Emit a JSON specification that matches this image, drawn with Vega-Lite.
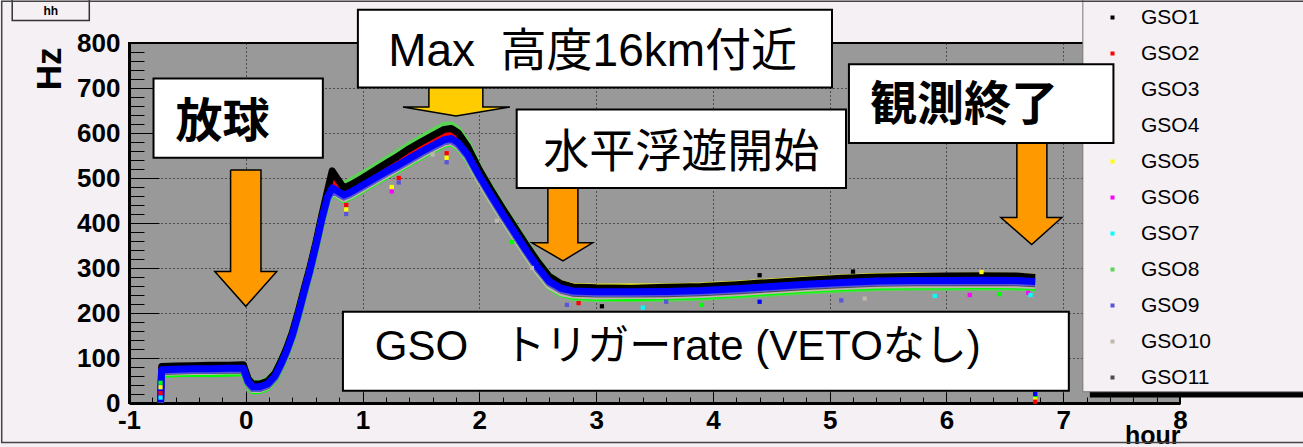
{
  "$schema": "https://vega.github.io/schema/vega-lite/v6.json",
  "width": 1051,
  "height": 360,
  "autosize": "none",
  "padding": {"left": 129, "top": 43, "right": 123, "bottom": 44},
  "background": "#f4f0f4",
  "config": {
    "font": "Liberation Sans",
    "view": {"fill": "#999999", "stroke": "#000000", "strokeWidth": 2},
    "axis": {
      "domainColor": "#000000", "domainWidth": 3, "tickColor": "#000000", "tickWidth": 1,
      "gridColor": "#000000", "gridDash": [1, 3], "gridWidth": 1,
      "labelFont": "Liberation Sans", "labelFontWeight": "bold", "labelFontSize": 26, "labelColor": "#000000",
      "titleFont": "Liberation Sans", "titleFontWeight": "bold", "titleColor": "#000000",
      "labelFlush": false, "labelOverlap": false, "labelBound": false
    }
  },
  "datasets": {
    "series": [
      {"h": -0.73, "GSO1": 4, "GSO2": 3, "GSO3": 5, "GSO4": 2, "GSO5": 4, "GSO6": 3, "GSO7": 2, "GSO8": 5, "GSO9": 1, "GSO10": 4, "GSO11": 3},
      {"h": -0.72, "GSO1": 81, "GSO2": 77, "GSO3": 64, "GSO4": 74, "GSO5": 79, "GSO6": 78, "GSO7": 75, "GSO8": 66, "GSO9": 71, "GSO10": 68, "GSO11": 70},
      {"h": -0.6, "GSO1": 82, "GSO2": 78, "GSO3": 65, "GSO4": 75, "GSO5": 80, "GSO6": 79, "GSO7": 76, "GSO8": 67, "GSO9": 72, "GSO10": 69, "GSO11": 71},
      {"h": -0.45, "GSO1": 83, "GSO2": 79, "GSO3": 66, "GSO4": 76, "GSO5": 81, "GSO6": 80, "GSO7": 77, "GSO8": 68, "GSO9": 73, "GSO10": 70, "GSO11": 72},
      {"h": -0.3, "GSO1": 84, "GSO2": 79, "GSO3": 65, "GSO4": 76, "GSO5": 80, "GSO6": 80, "GSO7": 77, "GSO8": 67, "GSO9": 73, "GSO10": 70, "GSO11": 72},
      {"h": -0.15, "GSO1": 84, "GSO2": 80, "GSO3": 66, "GSO4": 77, "GSO5": 82, "GSO6": 81, "GSO7": 78, "GSO8": 69, "GSO9": 74, "GSO10": 71, "GSO11": 73},
      {"h": -0.02, "GSO1": 85, "GSO2": 80, "GSO3": 67, "GSO4": 77, "GSO5": 82, "GSO6": 81, "GSO7": 78, "GSO8": 68, "GSO9": 74, "GSO10": 71, "GSO11": 73},
      {"h": 0.02, "GSO1": 54, "GSO2": 52, "GSO3": 40, "GSO4": 48, "GSO5": 51, "GSO6": 50, "GSO7": 46, "GSO8": 56, "GSO9": 45, "GSO10": 42, "GSO11": 44},
      {"h": 0.06, "GSO1": 42, "GSO2": 40, "GSO3": 27, "GSO4": 36, "GSO5": 39, "GSO6": 38, "GSO7": 34, "GSO8": 44, "GSO9": 33, "GSO10": 30, "GSO11": 32},
      {"h": 0.12, "GSO1": 42, "GSO2": 40, "GSO3": 28, "GSO4": 36, "GSO5": 39, "GSO6": 38, "GSO7": 34, "GSO8": 44, "GSO9": 33, "GSO10": 30, "GSO11": 32},
      {"h": 0.19, "GSO1": 49, "GSO2": 47, "GSO3": 35, "GSO4": 43, "GSO5": 46, "GSO6": 45, "GSO7": 41, "GSO8": 51, "GSO9": 40, "GSO10": 37, "GSO11": 39},
      {"h": 0.25, "GSO1": 66, "GSO2": 64, "GSO3": 52, "GSO4": 60, "GSO5": 63, "GSO6": 62, "GSO7": 58, "GSO8": 68, "GSO9": 57, "GSO10": 54, "GSO11": 56},
      {"h": 0.3, "GSO1": 92, "GSO2": 90, "GSO3": 78, "GSO4": 86, "GSO5": 89, "GSO6": 88, "GSO7": 84, "GSO8": 94, "GSO9": 83, "GSO10": 80, "GSO11": 82},
      {"h": 0.35, "GSO1": 122, "GSO2": 120, "GSO3": 108, "GSO4": 116, "GSO5": 119, "GSO6": 118, "GSO7": 114, "GSO8": 124, "GSO9": 113, "GSO10": 110, "GSO11": 112},
      {"h": 0.4, "GSO1": 158, "GSO2": 156, "GSO3": 144, "GSO4": 152, "GSO5": 155, "GSO6": 154, "GSO7": 150, "GSO8": 160, "GSO9": 149, "GSO10": 146, "GSO11": 148},
      {"h": 0.45, "GSO1": 204, "GSO2": 202, "GSO3": 190, "GSO4": 198, "GSO5": 201, "GSO6": 200, "GSO7": 196, "GSO8": 206, "GSO9": 195, "GSO10": 192, "GSO11": 194},
      {"h": 0.5, "GSO1": 254, "GSO2": 252, "GSO3": 240, "GSO4": 248, "GSO5": 251, "GSO6": 250, "GSO7": 246, "GSO8": 256, "GSO9": 245, "GSO10": 242, "GSO11": 244},
      {"h": 0.55, "GSO1": 302, "GSO2": 300, "GSO3": 288, "GSO4": 296, "GSO5": 299, "GSO6": 298, "GSO7": 294, "GSO8": 304, "GSO9": 293, "GSO10": 290, "GSO11": 292},
      {"h": 0.6, "GSO1": 356, "GSO2": 354, "GSO3": 342, "GSO4": 350, "GSO5": 353, "GSO6": 352, "GSO7": 348, "GSO8": 358, "GSO9": 347, "GSO10": 344, "GSO11": 346},
      {"h": 0.65, "GSO1": 416, "GSO2": 413, "GSO3": 400, "GSO4": 408, "GSO5": 412, "GSO6": 411, "GSO7": 406, "GSO8": 418, "GSO9": 405, "GSO10": 402, "GSO11": 404},
      {"h": 0.7, "GSO1": 472, "GSO2": 466, "GSO3": 448, "GSO4": 458, "GSO5": 463, "GSO6": 462, "GSO7": 455, "GSO8": 470, "GSO9": 453, "GSO10": 450, "GSO11": 454},
      {"h": 0.74, "GSO1": 516, "GSO2": 490, "GSO3": 468, "GSO4": 478, "GSO5": 485, "GSO6": 484, "GSO7": 475, "GSO8": 500, "GSO9": 473, "GSO10": 470, "GSO11": 474},
      {"h": 0.78, "GSO1": 500, "GSO2": 484, "GSO3": 462, "GSO4": 472, "GSO5": 478, "GSO6": 477, "GSO7": 469, "GSO8": 492, "GSO9": 467, "GSO10": 464, "GSO11": 468},
      {"h": 0.84, "GSO1": 478, "GSO2": 472, "GSO3": 452, "GSO4": 462, "GSO5": 468, "GSO6": 467, "GSO7": 459, "GSO8": 485, "GSO9": 458, "GSO10": 454, "GSO11": 458},
      {"h": 0.9, "GSO1": 485, "GSO2": 479, "GSO3": 459, "GSO4": 469, "GSO5": 475, "GSO6": 474, "GSO7": 466, "GSO8": 493, "GSO9": 465, "GSO10": 461, "GSO11": 465},
      {"h": 1.0, "GSO1": 500, "GSO2": 494, "GSO3": 474, "GSO4": 484, "GSO5": 490, "GSO6": 489, "GSO7": 481, "GSO8": 508, "GSO9": 480, "GSO10": 476, "GSO11": 480},
      {"h": 1.1, "GSO1": 516, "GSO2": 509, "GSO3": 489, "GSO4": 499, "GSO5": 505, "GSO6": 504, "GSO7": 496, "GSO8": 524, "GSO9": 495, "GSO10": 491, "GSO11": 495},
      {"h": 1.2, "GSO1": 532, "GSO2": 524, "GSO3": 504, "GSO4": 514, "GSO5": 520, "GSO6": 519, "GSO7": 511, "GSO8": 540, "GSO9": 510, "GSO10": 506, "GSO11": 510},
      {"h": 1.3, "GSO1": 548, "GSO2": 539, "GSO3": 518, "GSO4": 528, "GSO5": 534, "GSO6": 533, "GSO7": 525, "GSO8": 556, "GSO9": 524, "GSO10": 520, "GSO11": 524},
      {"h": 1.4, "GSO1": 565, "GSO2": 555, "GSO3": 533, "GSO4": 543, "GSO5": 549, "GSO6": 548, "GSO7": 540, "GSO8": 573, "GSO9": 539, "GSO10": 535, "GSO11": 539},
      {"h": 1.5, "GSO1": 580, "GSO2": 570, "GSO3": 548, "GSO4": 558, "GSO5": 564, "GSO6": 563, "GSO7": 555, "GSO8": 588, "GSO9": 554, "GSO10": 550, "GSO11": 554},
      {"h": 1.6, "GSO1": 594, "GSO2": 584, "GSO3": 562, "GSO4": 572, "GSO5": 578, "GSO6": 577, "GSO7": 569, "GSO8": 603, "GSO9": 568, "GSO10": 564, "GSO11": 568},
      {"h": 1.7, "GSO1": 608, "GSO2": 597, "GSO3": 575, "GSO4": 585, "GSO5": 591, "GSO6": 590, "GSO7": 582, "GSO8": 617, "GSO9": 581, "GSO10": 577, "GSO11": 581},
      {"h": 1.76, "GSO1": 610, "GSO2": 600, "GSO3": 578, "GSO4": 588, "GSO5": 594, "GSO6": 593, "GSO7": 585, "GSO8": 618, "GSO9": 584, "GSO10": 580, "GSO11": 584},
      {"h": 1.82, "GSO1": 600, "GSO2": 590, "GSO3": 568, "GSO4": 578, "GSO5": 584, "GSO6": 583, "GSO7": 575, "GSO8": 606, "GSO9": 574, "GSO10": 570, "GSO11": 574},
      {"h": 1.9, "GSO1": 570, "GSO2": 563, "GSO3": 542, "GSO4": 552, "GSO5": 558, "GSO6": 557, "GSO7": 549, "GSO8": 576, "GSO9": 548, "GSO10": 544, "GSO11": 548},
      {"h": 2.0, "GSO1": 518, "GSO2": 514, "GSO3": 495, "GSO4": 505, "GSO5": 510, "GSO6": 508, "GSO7": 503, "GSO8": 520, "GSO9": 502, "GSO10": 495, "GSO11": 501},
      {"h": 2.1, "GSO1": 474, "GSO2": 471, "GSO3": 452, "GSO4": 462, "GSO5": 467, "GSO6": 465, "GSO7": 460, "GSO8": 476, "GSO9": 459, "GSO10": 452, "GSO11": 458},
      {"h": 2.2, "GSO1": 432, "GSO2": 429, "GSO3": 410, "GSO4": 420, "GSO5": 425, "GSO6": 423, "GSO7": 418, "GSO8": 434, "GSO9": 417, "GSO10": 410, "GSO11": 416},
      {"h": 2.3, "GSO1": 392, "GSO2": 389, "GSO3": 370, "GSO4": 380, "GSO5": 385, "GSO6": 383, "GSO7": 378, "GSO8": 394, "GSO9": 377, "GSO10": 370, "GSO11": 376},
      {"h": 2.4, "GSO1": 352, "GSO2": 349, "GSO3": 330, "GSO4": 340, "GSO5": 345, "GSO6": 343, "GSO7": 338, "GSO8": 354, "GSO9": 337, "GSO10": 330, "GSO11": 336},
      {"h": 2.5, "GSO1": 314, "GSO2": 311, "GSO3": 292, "GSO4": 302, "GSO5": 307, "GSO6": 305, "GSO7": 300, "GSO8": 316, "GSO9": 299, "GSO10": 292, "GSO11": 298},
      {"h": 2.6, "GSO1": 281, "GSO2": 278, "GSO3": 259, "GSO4": 270, "GSO5": 278, "GSO6": 274, "GSO7": 268, "GSO8": 282, "GSO9": 267, "GSO10": 260, "GSO11": 266},
      {"h": 2.7, "GSO1": 265, "GSO2": 262, "GSO3": 243, "GSO4": 255, "GSO5": 265, "GSO6": 259, "GSO7": 253, "GSO8": 264, "GSO9": 252, "GSO10": 245, "GSO11": 251},
      {"h": 2.8, "GSO1": 258, "GSO2": 255, "GSO3": 237, "GSO4": 249, "GSO5": 259, "GSO6": 253, "GSO7": 247, "GSO8": 234, "GSO9": 246, "GSO10": 240, "GSO11": 244},
      {"h": 3.0, "GSO1": 256, "GSO2": 253, "GSO3": 235, "GSO4": 247, "GSO5": 257, "GSO6": 251, "GSO7": 245, "GSO8": 232, "GSO9": 244, "GSO10": 238, "GSO11": 242},
      {"h": 3.3, "GSO1": 255, "GSO2": 254, "GSO3": 234, "GSO4": 247, "GSO5": 258, "GSO6": 252, "GSO7": 245, "GSO8": 233, "GSO9": 244, "GSO10": 239, "GSO11": 242},
      {"h": 3.6, "GSO1": 257, "GSO2": 254, "GSO3": 236, "GSO4": 248, "GSO5": 258, "GSO6": 252, "GSO7": 246, "GSO8": 233, "GSO9": 245, "GSO10": 239, "GSO11": 243},
      {"h": 3.9, "GSO1": 259, "GSO2": 256, "GSO3": 238, "GSO4": 250, "GSO5": 260, "GSO6": 254, "GSO7": 248, "GSO8": 235, "GSO9": 247, "GSO10": 241, "GSO11": 245},
      {"h": 4.2, "GSO1": 263, "GSO2": 260, "GSO3": 242, "GSO4": 254, "GSO5": 264, "GSO6": 258, "GSO7": 252, "GSO8": 239, "GSO9": 251, "GSO10": 245, "GSO11": 249},
      {"h": 4.5, "GSO1": 268, "GSO2": 265, "GSO3": 247, "GSO4": 259, "GSO5": 269, "GSO6": 263, "GSO7": 257, "GSO8": 244, "GSO9": 256, "GSO10": 250, "GSO11": 254},
      {"h": 4.8, "GSO1": 273, "GSO2": 270, "GSO3": 252, "GSO4": 264, "GSO5": 274, "GSO6": 268, "GSO7": 262, "GSO8": 249, "GSO9": 261, "GSO10": 255, "GSO11": 259},
      {"h": 5.1, "GSO1": 277, "GSO2": 274, "GSO3": 256, "GSO4": 268, "GSO5": 278, "GSO6": 272, "GSO7": 266, "GSO8": 253, "GSO9": 265, "GSO10": 259, "GSO11": 263},
      {"h": 5.4, "GSO1": 280, "GSO2": 277, "GSO3": 259, "GSO4": 271, "GSO5": 281, "GSO6": 275, "GSO7": 269, "GSO8": 256, "GSO9": 268, "GSO10": 262, "GSO11": 266},
      {"h": 5.7, "GSO1": 281, "GSO2": 278, "GSO3": 260, "GSO4": 272, "GSO5": 282, "GSO6": 276, "GSO7": 270, "GSO8": 257, "GSO9": 269, "GSO10": 263, "GSO11": 267},
      {"h": 6.0, "GSO1": 282, "GSO2": 278, "GSO3": 260, "GSO4": 272, "GSO5": 281, "GSO6": 276, "GSO7": 270, "GSO8": 257, "GSO9": 269, "GSO10": 263, "GSO11": 267},
      {"h": 6.3, "GSO1": 283, "GSO2": 279, "GSO3": 261, "GSO4": 273, "GSO5": 282, "GSO6": 277, "GSO7": 271, "GSO8": 258, "GSO9": 270, "GSO10": 264, "GSO11": 268},
      {"h": 6.6, "GSO1": 282, "GSO2": 278, "GSO3": 260, "GSO4": 272, "GSO5": 281, "GSO6": 276, "GSO7": 270, "GSO8": 257, "GSO9": 269, "GSO10": 263, "GSO11": 267},
      {"h": 6.76, "GSO1": 279, "GSO2": 276, "GSO3": 258, "GSO4": 270, "GSO5": 279, "GSO6": 274, "GSO7": 268, "GSO8": 255, "GSO9": 267, "GSO10": 261, "GSO11": 265}
    ],
    "outliers": [
      {"series": "GSO3", "h": -0.73, "hz": 45}, {"series": "GSO5", "h": -0.73, "hz": 35},
      {"series": "GSO2", "h": -0.73, "hz": 22}, {"series": "GSO7", "h": -0.73, "hz": 12},
      {"series": "GSO2", "h": 0.86, "hz": 440}, {"series": "GSO5", "h": 0.86, "hz": 430}, {"series": "GSO9", "h": 0.86, "hz": 420},
      {"series": "GSO5", "h": 1.25, "hz": 480}, {"series": "GSO6", "h": 1.25, "hz": 470},
      {"series": "GSO2", "h": 1.31, "hz": 500}, {"series": "GSO9", "h": 1.31, "hz": 490},
      {"series": "GSO2", "h": 1.72, "hz": 555}, {"series": "GSO5", "h": 1.72, "hz": 545}, {"series": "GSO9", "h": 1.72, "hz": 535},
      {"series": "GSO10", "h": 1.6, "hz": 552},
      {"series": "GSO10", "h": 2.15, "hz": 405}, {"series": "GSO3", "h": 2.28, "hz": 358}, {"series": "GSO10", "h": 2.45, "hz": 300},
      {"series": "GSO9", "h": 2.75, "hz": 218}, {"series": "GSO2", "h": 2.85, "hz": 222}, {"series": "GSO1", "h": 3.05, "hz": 215},
      {"series": "GSO7", "h": 3.4, "hz": 212}, {"series": "GSO9", "h": 3.6, "hz": 225}, {"series": "GSO3", "h": 3.9, "hz": 218},
      {"series": "GSO4", "h": 4.4, "hz": 225}, {"series": "GSO9", "h": 5.1, "hz": 228}, {"series": "GSO10", "h": 5.3, "hz": 232},
      {"series": "GSO7", "h": 5.9, "hz": 238}, {"series": "GSO6", "h": 6.2, "hz": 240}, {"series": "GSO3", "h": 6.45, "hz": 242},
      {"series": "GSO6", "h": 6.7, "hz": 245}, {"series": "GSO7", "h": 6.72, "hz": 240},
      {"series": "GSO1", "h": 4.4, "hz": 284}, {"series": "GSO1", "h": 5.2, "hz": 292}, {"series": "GSO5", "h": 6.3, "hz": 291},
      {"series": "GSO3", "h": 6.76, "hz": 14}, {"series": "GSO5", "h": 6.76, "hz": 8}, {"series": "GSO4", "h": 6.76, "hz": 20}, {"series": "GSO2", "h": 6.76, "hz": 3}
    ],
    "orangeArrows": [
      {"a": "launch", "i": 0, "h": -0.13, "hz": 518}, {"a": "launch", "i": 1, "h": 0.13, "hz": 518},
      {"a": "launch", "i": 2, "h": 0.13, "hz": 292}, {"a": "launch", "i": 3, "h": 0.265, "hz": 292},
      {"a": "launch", "i": 4, "h": 0.0, "hz": 215}, {"a": "launch", "i": 5, "h": -0.265, "hz": 292},
      {"a": "launch", "i": 6, "h": -0.13, "hz": 292}, {"a": "launch", "i": 7, "h": -0.13, "hz": 518},
      {"a": "float", "i": 0, "h": 2.587, "hz": 478}, {"a": "float", "i": 1, "h": 2.844, "hz": 478},
      {"a": "float", "i": 2, "h": 2.844, "hz": 356}, {"a": "float", "i": 3, "h": 2.97, "hz": 356},
      {"a": "float", "i": 4, "h": 2.716, "hz": 316}, {"a": "float", "i": 5, "h": 2.45, "hz": 356},
      {"a": "float", "i": 6, "h": 2.587, "hz": 356}, {"a": "float", "i": 7, "h": 2.587, "hz": 478},
      {"a": "end", "i": 0, "h": 6.603, "hz": 578}, {"a": "end", "i": 1, "h": 6.86, "hz": 578},
      {"a": "end", "i": 2, "h": 6.86, "hz": 412}, {"a": "end", "i": 3, "h": 6.988, "hz": 412},
      {"a": "end", "i": 4, "h": 6.73, "hz": 352}, {"a": "end", "i": 5, "h": 6.466, "hz": 412},
      {"a": "end", "i": 6, "h": 6.603, "hz": 412}, {"a": "end", "i": 7, "h": 6.603, "hz": 578}
    ],
    "goldArrow": [
      {"a": "max", "i": 0, "h": 1.568, "hz": 701}, {"a": "max", "i": 1, "h": 2.03, "hz": 701},
      {"a": "max", "i": 2, "h": 2.03, "hz": 658}, {"a": "max", "i": 3, "h": 2.262, "hz": 658},
      {"a": "max", "i": 4, "h": 1.8, "hz": 638}, {"a": "max", "i": 5, "h": 1.346, "hz": 658},
      {"a": "max", "i": 6, "h": 1.568, "hz": 658}, {"a": "max", "i": 7, "h": 1.568, "hz": 701}
    ],
    "legendShadow": [
      {"h1": 7.228, "h2": 9.3, "hz1": 12, "hz2": 25}
    ],
    "legendFrame": [
      {"h1": 7.168, "h2": 9.3, "hz1": 25, "hz2": 900}
    ],
    "boxes": [
      {"b": "launch", "h1": -0.79, "h2": 0.66, "hz1": 545, "hz2": 721},
      {"b": "max", "h1": 0.96, "h2": 5.02, "hz1": 701, "hz2": 874},
      {"b": "float", "h1": 2.32, "h2": 5.14, "hz1": 478, "hz2": 652},
      {"b": "end", "h1": 5.165, "h2": 7.43, "hz1": 578, "hz2": 753},
      {"b": "rate", "h1": 0.832, "h2": 7.048, "hz1": 27, "hz2": 203}
    ],
    "boldTexts": [
      {"t": "放球", "h": -0.2, "hz": 623},
      {"t": "観測終了", "h": 6.15, "hz": 659}
    ],
    "plainTexts": [
      {"t": "Max\u00a0\u00a0高度16km付近", "h": 2.97, "hz": 781},
      {"t": "水平浮遊開始", "h": 3.73, "hz": 556}
    ],
    "rateText": [
      {"t": "GSO\u00a0\u00a0\u00a0トリガーrate (VETOなし)", "h": 3.7, "hz": 124}
    ],
    "titleBox": [
      {"t": "hh", "h1": -2.0, "h2": -1.34, "hz1": 850, "hz2": 900, "h": -1.67, "hz": 872}
    ],
    "frame": [
      {"h1": -2.09, "h2": 9.2, "hz1": -88, "hz2": 893}
    ]
  },
  "layer": [
    {
      "data": {"name": "series"},
      "transform": [
        {"fold": ["GSO8", "GSO3", "GSO10", "GSO11", "GSO7", "GSO6", "GSO5", "GSO2", "GSO1", "GSO9", "GSO4"], "as": ["series", "hz"]}
      ],
      "mark": {"type": "line", "strokeWidth": 7, "strokeJoin": "round", "clip": true},
      "encoding": {
        "x": {
          "field": "h", "type": "quantitative",
          "scale": {"domain": [-1, 8], "nice": false, "zero": false},
          "axis": {
            "values": [-1, -0.8, -0.6, -0.4, -0.2, 0, 0.2, 0.4, 0.6, 0.8, 1, 1.2, 1.4, 1.6, 1.8, 2, 2.2, 2.4, 2.6, 2.8, 3, 3.2, 3.4, 3.6, 3.8, 4, 4.2, 4.4, 4.6, 4.8, 5, 5.2, 5.4, 5.6, 5.8, 6, 6.2, 6.4, 6.6, 6.8, 7, 7.2, 7.4, 7.6, 7.8, 8],
            "tickCount": 200,
            "labelOverlap": false,
            "labelExpr": "abs(datum.value - round(datum.value)) < 0.01 ? '' + round(datum.value) : ''",
            "tickSize": {"condition": {"test": "abs(datum.value - round(datum.value)) < 0.01", "value": -11}, "value": -6},
            "gridOpacity": {"condition": {"test": "abs(datum.value - round(datum.value)) < 0.01", "value": 1}, "value": 0},
            "labelPadding": 15,
            "labelBaseline": "top",
            "title": "hour", "titleFontSize": 25, "titleAnchor": "end", "titleAlign": "right",
            "titleBaseline": "alphabetic", "titleX": 1051, "titleY": 40
          }
        },
        "y": {
          "field": "hz", "type": "quantitative",
          "scale": {"domain": [0, 800], "nice": false, "zero": false},
          "axis": {
            "values": [0, 20, 40, 60, 80, 100, 120, 140, 160, 180, 200, 220, 240, 260, 280, 300, 320, 340, 360, 380, 400, 420, 440, 460, 480, 500, 520, 540, 560, 580, 600, 620, 640, 660, 680, 700, 720, 740, 760, 780, 800],
            "tickCount": 200,
            "labelOverlap": false,
            "labelExpr": "datum.value % 100 === 0 ? '' + datum.value : ''",
            "tickSize": {"condition": {"test": "datum.value % 100 === 0", "value": -30}, "value": -15},
            "gridOpacity": {"condition": {"test": "datum.value % 100 === 0", "value": 1}, "value": 0},
            "labelPadding": 39,
            "title": "Hz", "titleFontSize": 35, "titleAngle": 270, "titleAnchor": "end", "titleAlign": "right",
            "titleBaseline": "alphabetic", "titleX": -69, "titleY": 4
          }
        },
        "color": {
          "field": "series", "type": "nominal",
          "scale": {
            "domain": ["GSO1", "GSO2", "GSO3", "GSO4", "GSO5", "GSO6", "GSO7", "GSO8", "GSO9", "GSO10", "GSO11"],
            "range": ["#000000", "#ff0000", "#00ff00", "#0000ff", "#ffff00", "#ff00ff", "#00ffff", "#59d454", "#5954d9", "#c0b6ac", "#4c4c4c"]
          },
          "legend": {
            "orient": "none", "legendX": 954, "legendY": -42, "title": null,
            "fillColor": "transparent", "strokeColor": "transparent", "padding": 6,
            "symbolType": "M1.1,-0.2H1.5V0.2H1.1Z", "symbolSize": 400,
            "labelFont": "Liberation Sans", "labelFontSize": 21, "labelColor": "#000000",
            "labelOffset": 31, "rowPadding": 14, "labelLimit": 400,
            "encode": {
              "symbols": {
                "update": {
                  "fill": {"scale": "color", "field": "value"},
                  "stroke": {"value": "transparent"},
                  "strokeWidth": {"value": 0},
                  "opacity": {"signal": "datum.value === 'GSO3' || datum.value === 'GSO4' ? 0 : 1"}
                }
              }
            }
          }
        },
        "order": {"field": "h", "type": "quantitative"}
      }
    },
    {
      "data": {"name": "outliers"},
      "mark": {"type": "square", "size": 18, "opacity": 1},
      "encoding": {
        "x": {"field": "h", "type": "quantitative"},
        "y": {"field": "hz", "type": "quantitative"},
        "color": {"field": "series", "type": "nominal"}
      }
    },
    {
      "data": {"name": "legendShadow"},
      "mark": {"type": "rect", "fill": "#000000"},
      "encoding": {
        "x": {"field": "h1", "type": "quantitative"},
        "x2": {"field": "h2"},
        "y": {"field": "hz1", "type": "quantitative"},
        "y2": {"field": "hz2"}
      }
    },
    {
      "data": {"name": "legendFrame"},
      "mark": {"type": "rect", "fill": "#f4f0f4", "stroke": "#777777", "strokeWidth": 1},
      "encoding": {
        "x": {"field": "h1", "type": "quantitative"},
        "x2": {"field": "h2"},
        "y": {"field": "hz1", "type": "quantitative"},
        "y2": {"field": "hz2"}
      }
    },
    {
      "data": {"name": "orangeArrows"},
      "mark": {"type": "line", "fill": "#ff9900", "stroke": "#000000", "strokeWidth": 1.5, "strokeJoin": "miter"},
      "encoding": {
        "x": {"field": "h", "type": "quantitative"},
        "y": {"field": "hz", "type": "quantitative"},
        "detail": {"field": "a", "type": "nominal"},
        "order": {"field": "i", "type": "quantitative"}
      }
    },
    {
      "data": {"name": "goldArrow"},
      "mark": {"type": "line", "fill": "#ffcc00", "stroke": "#000000", "strokeWidth": 1.5, "strokeJoin": "miter"},
      "encoding": {
        "x": {"field": "h", "type": "quantitative"},
        "y": {"field": "hz", "type": "quantitative"},
        "detail": {"field": "a", "type": "nominal"},
        "order": {"field": "i", "type": "quantitative"}
      }
    },
    {
      "data": {"name": "boxes"},
      "mark": {"type": "rect", "fill": "#ffffff", "stroke": "#000000", "strokeWidth": 2},
      "encoding": {
        "x": {"field": "h1", "type": "quantitative"},
        "x2": {"field": "h2"},
        "y": {"field": "hz1", "type": "quantitative"},
        "y2": {"field": "hz2"}
      }
    },
    {
      "data": {"name": "boldTexts"},
      "mark": {"type": "text", "font": "Liberation Sans, Noto Sans CJK JP", "fontSize": 47, "fontWeight": "bold", "color": "#000000", "align": "center", "baseline": "middle"},
      "encoding": {
        "x": {"field": "h", "type": "quantitative"},
        "y": {"field": "hz", "type": "quantitative"},
        "text": {"field": "t"}
      }
    },
    {
      "data": {"name": "plainTexts"},
      "mark": {"type": "text", "font": "Liberation Sans, Noto Sans CJK JP", "fontSize": 46, "color": "#000000", "align": "center", "baseline": "middle"},
      "encoding": {
        "x": {"field": "h", "type": "quantitative"},
        "y": {"field": "hz", "type": "quantitative"},
        "text": {"field": "t"}
      }
    },
    {
      "data": {"name": "rateText"},
      "mark": {"type": "text", "font": "Liberation Sans, Noto Sans CJK JP", "fontSize": 42, "color": "#000000", "align": "center", "baseline": "middle"},
      "encoding": {
        "x": {"field": "h", "type": "quantitative"},
        "y": {"field": "hz", "type": "quantitative"},
        "text": {"field": "t"}
      }
    },
    {
      "data": {"name": "titleBox"},
      "mark": {"type": "rect", "fill": "#f4f0f4", "stroke": "#333333", "strokeWidth": 1.5},
      "encoding": {
        "x": {"field": "h1", "type": "quantitative"},
        "x2": {"field": "h2"},
        "y": {"field": "hz1", "type": "quantitative"},
        "y2": {"field": "hz2"}
      }
    },
    {
      "data": {"name": "titleBox"},
      "mark": {"type": "text", "font": "Liberation Sans", "fontSize": 12, "fontWeight": "bold", "color": "#000000", "align": "center", "baseline": "middle"},
      "encoding": {
        "x": {"field": "h", "type": "quantitative"},
        "y": {"field": "hz", "type": "quantitative"},
        "text": {"field": "t"}
      }
    },
    {
      "data": {"name": "frame"},
      "mark": {"type": "rect", "fill": null, "fillOpacity": 0, "stroke": "#444444", "strokeWidth": 1.5},
      "encoding": {
        "x": {"field": "h1", "type": "quantitative"},
        "x2": {"field": "h2"},
        "y": {"field": "hz1", "type": "quantitative"},
        "y2": {"field": "hz2"}
      }
    }
  ]
}
